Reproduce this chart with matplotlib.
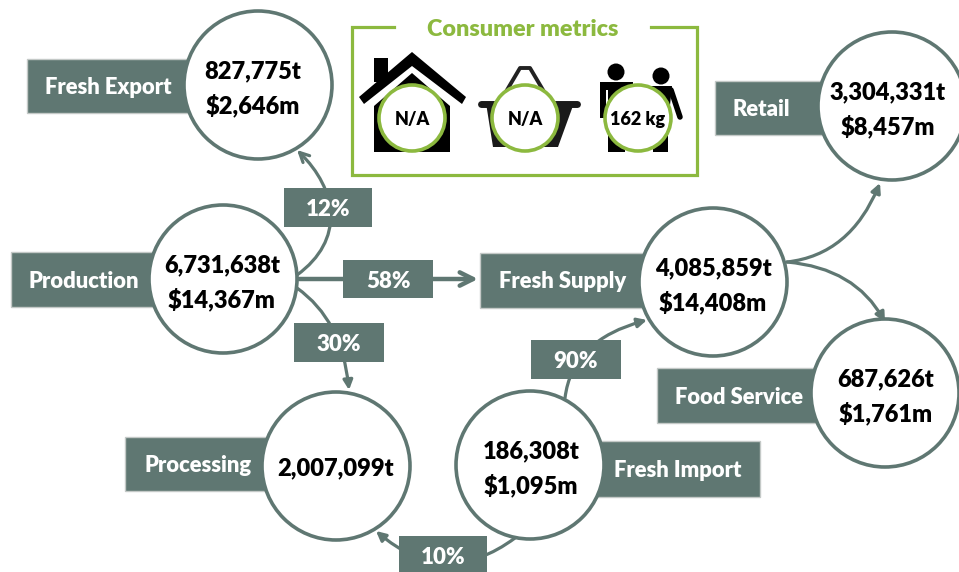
import matplotlib
matplotlib.use('Agg')
import matplotlib.pyplot as plt
from matplotlib.patches import Circle, Rectangle, Polygon, FancyArrowPatch
from matplotlib.path import Path

plt.rcParams['font.family'] = ['Lato', 'DejaVu Sans']

GREY = '#5f7772'
GREEN = '#8cb93f'
WEIGHT = 'heavy'

node_names = ['Fresh Export', 'Production', 'Retail', 'Fresh Supply', 'Food Service', 'Processing', 'Fresh Import']
node_lines = [['827,775t', '$2,646m'], ['6,731,638t', '$14,367m'], ['3,304,331t', '$8,457m'],
              ['4,085,859t', '$14,408m'], ['687,626t', '$1,761m'], ['2,007,099t'], ['186,308t', '$1,095m']]
shares = ['12%', '58%', '30%', '90%', '10%']
metrics = ['N/A', 'N/A', '162 kg']

centres = [(258, 85), (223, 279), (892, 106), (713, 282), (885, 393), (336, 466), (530, 465)]
text_x = [253, 222, 888, 713, 886, 336, 531]
name_boxes = [(27, 59, 163, 54), (11, 252, 144, 55), (715, 81, 115, 54), (480, 253, 170, 55),
              (657, 368, 163, 55), (125, 437, 145, 54), (590, 441, 170, 56)]
name_x = [108, 84, 761, 563, 739, 198, 678]
share_boxes = [(284, 188, 88, 39), (343, 260, 90, 38), (294, 323, 90, 39), (531, 340, 90, 39), (399, 536, 88, 39)]
metric_x = [412, 525, 638]

fig = plt.figure(figsize=(9.59, 5.72), dpi=100)
ax = fig.add_axes([0, 0, 1, 1])
ax.set_xlim(0, 959)
ax.set_ylim(572, 0)
ax.axis('off')


def arrow(points, style='-|>', size=14, lw=2.3):
    codes = [Path.MOVETO] + [Path.CURVE3 if len(points) == 3 else Path.CURVE4] * (len(points) - 1)
    ax.add_patch(FancyArrowPatch(path=Path(points, codes), arrowstyle=style, mutation_scale=size, color=GREY,
                                 lw=lw, zorder=1, shrinkA=0, shrinkB=0))


arrow([(297, 275), (345, 240), (338, 190), (297, 150)], '->', 17)
arrow([(297, 279), (390, 279), (478, 279)], '->', 24, 3.2)
arrow([(297, 288), (342, 320), (349, 390)])
arrow([(565, 398), (572, 340), (647, 320)])
arrow([(515, 538), (445, 590), (376, 531)])
arrow([(787, 262), (850, 255), (880, 183)])
arrow([(787, 262), (855, 268), (885, 322)])

for (x, y, w, h) in name_boxes:
    ax.add_patch(Rectangle((x, y), w, h, fc=GREY, ec='#c4c9c7', lw=1, zorder=2))
for (x, y, w, h), label in zip(share_boxes, shares):
    ax.add_patch(Rectangle((x, y), w, h, fc=GREY, ec='none', zorder=2))
    ax.text(x + w / 2, y + h / 2 + 2, label, color='white', fontsize=16, fontweight=WEIGHT,
            ha='center', va='center', zorder=3)

for name, x, box in zip(node_names, name_x, name_boxes):
    ax.text(x, box[1] + box[3] / 2 + 1.5, name, color='white', fontsize=15.8, fontweight=WEIGHT,
            ha='center', va='center', zorder=3)

for (cx, cy), tx, lines in zip(centres, text_x, node_lines):
    ax.add_patch(Circle((cx, cy), 74, fc='white', ec=GREY, lw=2.6, zorder=4))
    if len(lines) == 2:
        ax.text(tx, cy - 14, lines[0], fontsize=17, fontweight=WEIGHT, ha='center', va='center', zorder=5)
        ax.text(tx, cy + 20, lines[1], fontsize=17, fontweight=WEIGHT, ha='center', va='center', zorder=5)
    else:
        ax.text(tx, cy + 2, lines[0], fontsize=17, fontweight=WEIGHT, ha='center', va='center', zorder=5)

# consumer metrics frame, open at the top for the title
ax.plot([394, 352, 352, 697, 697, 651], [27, 27, 175, 175, 27, 27], color=GREEN, lw=2.3,
        solid_joinstyle='miter', zorder=1)
ax.text(523, 29, 'Consumer metrics', color=GREEN, fontsize=16.8, fontweight=WEIGHT,
        ha='center', va='center')

# house icon
ax.add_patch(Polygon([(412, 52), (466, 97), (462, 104), (412, 66), (364, 104), (359, 97)], fc='black', zorder=2))
ax.add_patch(Rectangle((374, 58), 14, 24, fc='black', zorder=2))
ax.add_patch(Polygon([(412, 73), (450, 106), (450, 152), (374, 152), (374, 106)], fc='black', zorder=2))

# basket icon
ax.plot([507, 520, 530, 543], [90, 68, 68, 90], color='#222222', lw=2.8, zorder=2)
ax.add_patch(Polygon([(486, 103), (574, 103), (558, 147), (493, 147)], fc='#1a1a1a', zorder=2))
ax.plot([481, 577], [104, 104], color='#1a1a1a', lw=5, solid_capstyle='round', zorder=2)

# people icon
ax.add_patch(Circle((616, 72), 8.5, fc='black', zorder=2))
ax.add_patch(Rectangle((600, 82), 33, 8, fc='black', zorder=2))
ax.add_patch(Rectangle((600, 82), 6, 36, fc='black', zorder=2))
ax.add_patch(Rectangle((627, 82), 6, 36, fc='black', zorder=2))
ax.add_patch(Rectangle((608, 82), 17, 70, fc='black', zorder=2))
ax.add_patch(Circle((661, 76), 8.5, fc='black', zorder=2))
ax.add_patch(Polygon([(650, 86), (672, 86), (668, 125), (668, 152), (653, 152), (653, 125)], fc='black', zorder=2))
ax.plot([671, 680], [90, 117], color='black', lw=4, solid_capstyle='round', zorder=2)

for x, label in zip(metric_x, metrics):
    ax.add_patch(Circle((x, 118), 33, fc='white', ec=GREEN, lw=2.6, zorder=3))
    ax.text(x, 120, label, fontsize=13, fontweight=WEIGHT, ha='center', va='center', zorder=4)

fig.savefig('out.png', dpi=100)
